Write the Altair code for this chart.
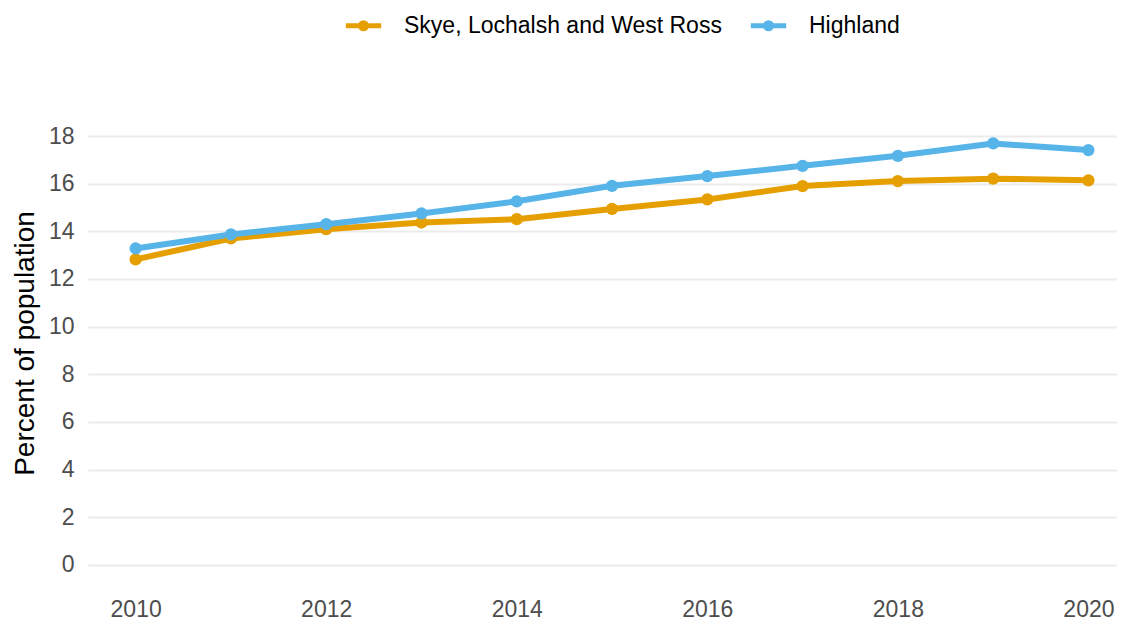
import altair as alt
import pandas as pd

years = list(range(2010, 2021))
skye = [12.82, 13.70, 14.09, 14.37, 14.51, 14.94, 15.34, 15.90, 16.11, 16.21, 16.14]
highland = [13.28, 13.87, 14.30, 14.75, 15.26, 15.91, 16.32, 16.75, 17.17, 17.69, 17.41]
series_names = ["Skye, Lochalsh and West Ross", "Highland"]
series_colors = ["#E69F00", "#56B4E9"]
y_ticks = [0, 2, 4, 6, 8, 10, 12, 14, 16, 18]
x_ticks = [2010, 2012, 2014, 2016, 2018, 2020]

rows = []
for y, v in zip(years, skye):
    rows.append({"year": y, "value": v, "area": series_names[0]})
for y, v in zip(years, highland):
    rows.append({"year": y, "value": v, "area": series_names[1]})
df = pd.DataFrame(rows)

FONT = "Liberation Sans"

color = alt.Color(
    "area:N",
    scale=alt.Scale(domain=series_names, range=series_colors),
    sort=series_names,
    legend=alt.Legend(
        title=None,
        orient="none",
        direction="horizontal",
        legendX=255,
        legendY=-117,
        symbolType="M-1,0L1,0M-0.17,0A0.17,0.17,0,1,1,0.17,0A0.17,0.17,0,1,1,-0.17,0",
        symbolSize=1250,
        symbolStrokeWidth=5,
        labelFontSize=23,
        labelFont=FONT,
        labelColor="#000000",
        labelOffset=20,
        labelLimit=0,
        columnPadding=18,
    ),
)

x = alt.X(
    "year:Q",
    scale=alt.Scale(domain=[2009.5, 2020.3], nice=False, zero=False),
    axis=alt.Axis(
        values=x_ticks,
        format="d",
        title=None,
        grid=False,
        ticks=False,
        domain=False,
        labelFontSize=23,
        labelFont=FONT,
        labelColor="#4d4d4d",
        labelPadding=12,
        labelFlush=False,
    ),
)
y = alt.Y(
    "value:Q",
    scale=alt.Scale(domain=[-0.89, 18.59], nice=False, zero=False),
    axis=alt.Axis(
        values=y_ticks,
        title="Percent of population",
        titleFontSize=28,
        titleFont=FONT,
        titleFontWeight="normal",
        titleColor="#000000",
        titleAngle=270,
        titleX=-63,
        titleY=221,
        titleAlign="center",
        titleBaseline="middle",
        grid=True,
        gridColor="#ebebeb",
        gridWidth=2,
        ticks=False,
        domain=False,
        labelFontSize=23,
        labelFont=FONT,
        labelColor="#4d4d4d",
        labelPadding=14,
    ),
)

lines = alt.Chart(df).mark_line(strokeWidth=6).encode(x=x, y=y, color=color, detail="area:N")
points = alt.Chart(df).mark_circle(size=150, opacity=1).encode(
    x=x, y=y, color=alt.Color("area:N", scale=alt.Scale(domain=series_names, range=series_colors), legend=None)
)

chart = (
    alt.layer(lines, points)
    .properties(
        width=1029,
        height=464,
        autosize=alt.AutoSizeParams(type="none"),
        padding={"left": 80, "top": 114, "right": 0, "bottom": 36},
        background="white",
    )
    .configure_view(stroke=None)
)

chart.save("out.html", embed_options={"renderer": "svg", "actions": False})
